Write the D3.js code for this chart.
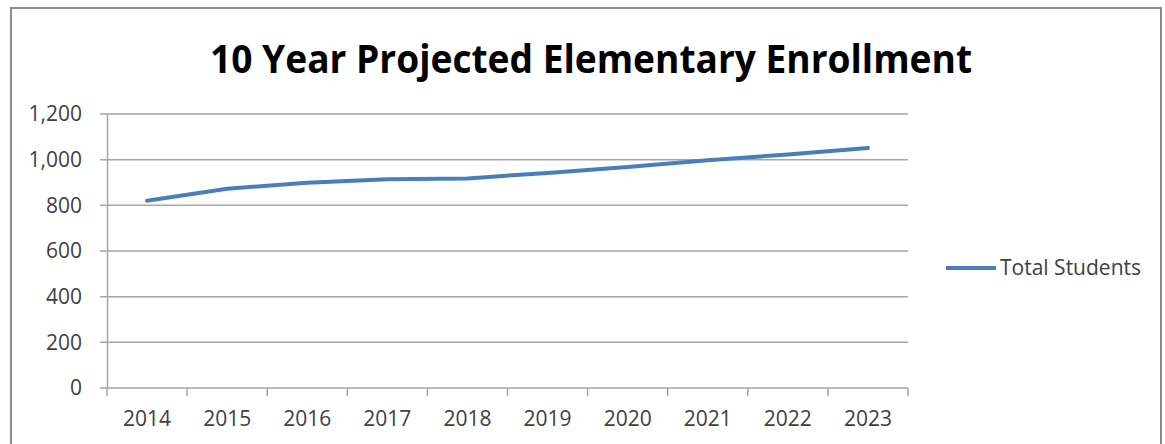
<!DOCTYPE html>
<html>
<head>
<meta charset="utf-8">
<script src="https://cdn.jsdelivr.net/npm/d3@7"></script>
<style>
  body { margin: 0; background: #fff; }
  text { font-family: "Open Sans", Lato, sans-serif; }
</style>
</head>
<body>
<div id="chart"></div>
<script>
const years = ["2014", "2015", "2016", "2017", "2018", "2019", "2020", "2021", "2022", "2023"];
const totalStudents = [820, 873, 899, 914, 918, 942, 968, 997, 1023, 1051];
const yTicks = [0, 200, 400, 600, 800, 1000, 1200];
const seriesName = "Total Students";
const LINE_COLOR = "#4a7ebb";
const LABEL_FONT = "'Open Sans', Lato, sans-serif";

let width = 1165;
let height = 444;

let svg = d3.select("#chart")
            .append("svg")
            .attr("width", width)
            .attr("height", height);

// outer frame
svg.append("rect")
   .attr("x", 11).attr("y", 8)
   .attr("width", 1150).attr("height", 460)
   .attr("fill", "none")
   .attr("stroke", "#8c8c8c")
   .attr("stroke-width", 2);

svg.append("text")
   .attr("x", 591).attr("y", 73)
   .attr("text-anchor", "middle")
   .attr("font-size", "40px")
   .attr("font-weight", "bold")
   .attr("textLength", 762)
   .attr("lengthAdjust", "spacingAndGlyphs")
   .attr("fill", "#000")
   .text("10 Year Projected Elementary Enrollment");

let x = d3.scaleBand().domain(years).range([107, 908]);
let y = d3.scaleLinear().domain([0, 1200]).range([388, 114]);

// gridlines
svg.append("g")
   .selectAll("line")
   .data(yTicks)
   .enter()
   .append("line")
   .attr("x1", 100).attr("x2", 908)
   .attr("y1", d => y(d)).attr("y2", d => y(d))
   .attr("stroke", "#a6a6a6")
   .attr("stroke-width", 1.5);

// y axis
let yAxis = svg.append("g")
   .attr("transform", "translate(107,0)")
   .call(d3.axisLeft(y).tickValues(yTicks).tickSize(0).tickPadding(25).tickFormat(d3.format(",")));
yAxis.select(".domain").attr("stroke", "#a6a6a6").attr("stroke-width", 1.5);
yAxis.selectAll("text").attr("font-size", "21px").attr("fill", "#404040")
     .attr("font-family", LABEL_FONT);

// x axis
let xAxis = svg.append("g")
   .attr("transform", "translate(0,388)")
   .call(d3.axisBottom(x).tickSize(0).tickPadding(23));
xAxis.select(".domain").remove();
xAxis.selectAll("text").attr("font-size", "21px").attr("fill", "#404040")
     .attr("font-family", LABEL_FONT);

let boundaries = years.map(d => x(d)).concat([x.range()[1]]);
svg.append("g")
   .selectAll("line")
   .data(boundaries)
   .enter()
   .append("line")
   .attr("x1", d => d).attr("x2", d => d)
   .attr("y1", 388).attr("y2", 396)
   .attr("stroke", "#a6a6a6")
   .attr("stroke-width", 1.5);

// series line
let line = d3.line()
             .x((d, i) => x(years[i]) + x.bandwidth() / 2)
             .y(d => y(d));

svg.append("path")
   .datum(totalStudents)
   .attr("d", line)
   .attr("fill", "none")
   .attr("stroke", LINE_COLOR)
   .attr("stroke-width", 4)
   .attr("stroke-linecap", "round")
   .attr("stroke-linejoin", "round");

// legend
svg.append("line")
   .attr("x1", 946).attr("x2", 996)
   .attr("y1", 268).attr("y2", 268)
   .attr("stroke", LINE_COLOR)
   .attr("stroke-width", 4);

svg.append("text")
   .attr("x", 1000).attr("y", 275)
   .attr("font-size", "21px")
   .attr("fill", "#404040")
   .text(seriesName);
</script>
</body>
</html>
